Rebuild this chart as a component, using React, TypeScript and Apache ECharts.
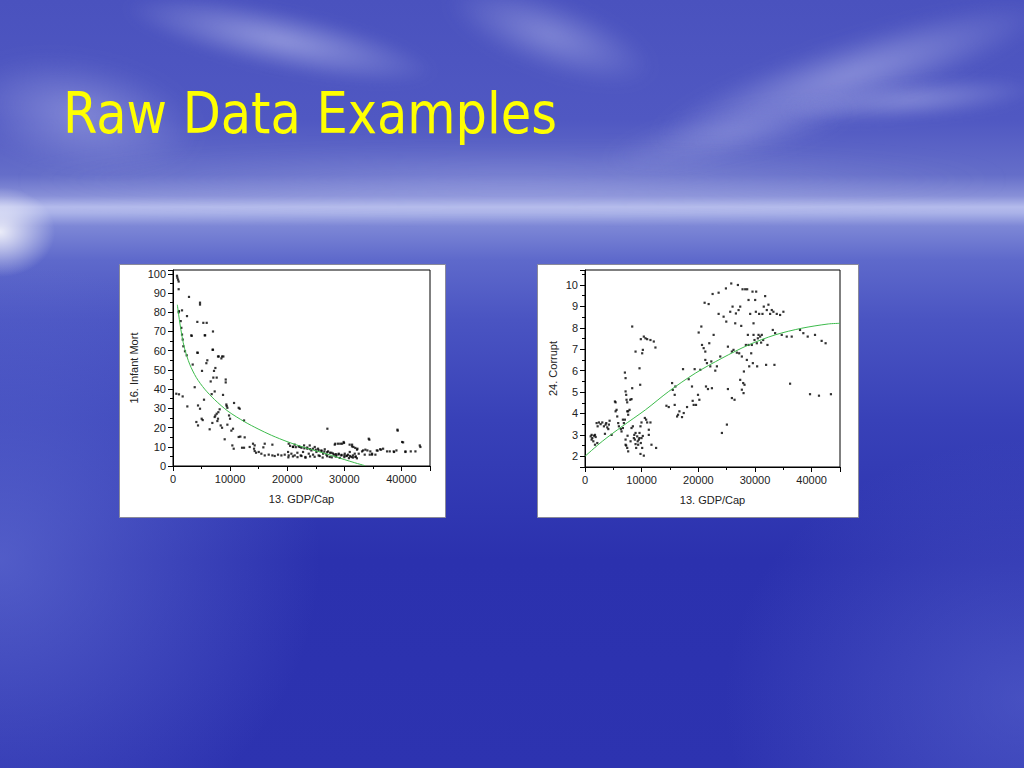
import React, { useEffect, useRef } from "react";
import * as echarts from "echarts";

const slideTitle = "Raw Data Examples";
const gdpAxisName = "13. GDP/Cap";
const mortAxisName = "16. Infant Mort";
const corruptAxisName = "24. Corrupt";

// Infant mortality vs GDP per capita (scatter)
const mortPoints: number[][] = [
  [700, 99], [760, 98], [880, 97], [990, 96], [990, 92], [1580, 81], [990, 80], [2800, 88], [4730, 85], [4730, 84],
  [2450, 78], [3210, 68], [4260, 75], [5310, 74.5], [5900, 74.5], [5550, 68], [7000, 70], [7000, 60.5], [4260, 59],
  [6010, 55], [5840, 53.5], [7880, 57], [8470, 56], [8820, 57], [7420, 51], [7180, 49.5], [5080, 49.5], [7060, 46],
  [7650, 46], [9230, 45], [9230, 43.5], [3800, 41], [6600, 44], [5430, 34.5], [7300, 38.8], [8760, 37], [6770, 37.4],
  [580, 37.6], [1050, 37.3], [1690, 36.2], [2510, 31], [4380, 31.5], [4730, 29.8], [9340, 32], [9400, 31.2],
  [9520, 30.3], [10690, 32.8], [11500, 30.3], [11680, 29.8], [8170, 29.5], [7940, 28], [7650, 27.2], [7420, 26.3],
  [7300, 25.5], [7880, 24.6], [9810, 26.3], [9990, 24.6], [5020, 24.6], [4090, 22.9], [4380, 21.1], [5200, 23.9],
  [6890, 22.4], [7770, 23.4], [8350, 21.1], [6420, 19.1], [8590, 19.9], [9520, 21.5], [10510, 19.4], [10220, 18.4],
  [12440, 23.7], [9050, 13.9], [10390, 10.7], [10630, 9], [11500, 15.1], [11790, 15.3], [12550, 14.9], [12090, 9.5],
  [12440, 9.5], [13430, 9.9], [14010, 11.6], [14300, 10.7], [14190, 9], [14300, 7.8], [14540, 6.9], [15010, 7.3],
  [15470, 6.4], [15820, 9.7], [16060, 11.6], [16060, 5.5], [16760, 5.9], [17400, 11.1], [17400, 5.5], [17810, 5.2],
  [18390, 5.9], [18980, 5.5], [19560, 5.9], [20260, 11.6], [20150, 7.3], [20260, 5.5], [20730, 6.4], [21020, 9.9],
  [21310, 11.1], [21310, 5.5], [21780, 6.9], [22190, 9.9], [22360, 5.5], [22770, 7.3], [22950, 10.7], [23180, 4.7],
  [23530, 9], [23770, 6.4], [23940, 10.7], [24230, 8.1], [24520, 5.9], [24820, 9.9], [25110, 7.3], [25400, 9],
  [25690, 5.2], [25980, 8.1], [26280, 6.4], [26570, 8.7], [26860, 5.9], [27030, 19.4], [27150, 7.6], [27440, 4.7],
  [27740, 6.9], [28200, 5.9], [28320, 11.1], [28610, 5.5], [28900, 11.6], [29020, 6.4], [29490, 5.5], [29610, 11.6],
  [29950, 12], [30070, 6.4], [30360, 5.2], [30650, 5.9], [30950, 7.3], [31240, 4.7], [31360, 11.1], [31590, 9.9],
  [31820, 6.4], [31940, 4.7], [32290, 9], [32520, 6.4], [33280, 8.1], [33570, 5.9], [34270, 14.2], [34040, 8.1],
  [34450, 5.9], [34860, 6.4], [35440, 5.9], [35680, 8.1], [36260, 8.7], [36790, 9], [37950, 7.6], [38710, 7.3],
  [39300, 18.9], [39120, 8.1], [40110, 12.5], [40700, 7.6], [41630, 7.6], [42450, 7.6], [43210, 10.7],
  [1050, 80.6], [1350, 75.4], [1460, 71.9], [1580, 68.4], [1700, 65.8], [1810, 62.3], [2100, 59.7], [2400, 57.6],
  [3450, 52.8], [3270, 67.7], [5630, 68], [6930, 60.5], [4330, 58.9], [8010, 57], [8600, 57],
  [20500, 10.5], [21000, 10], [21500, 9.8], [22000, 10.2], [22500, 9.5], [23000, 9.2], [23500, 9.6], [24000, 8.8],
  [24500, 9], [25000, 8.5], [25500, 8.2], [26000, 7.8], [26500, 7.5], [27000, 7.2], [27500, 6.9], [28000, 6.5],
  [28500, 6.2], [29000, 6], [29500, 5.8], [30000, 5.5], [30500, 5.4], [31000, 5.2], [31500, 5.5], [32000, 5],
  [20200, 4.5], [21000, 5], [21800, 4.6], [22500, 5.2], [23200, 4.3], [24000, 5], [24800, 4.8], [25500, 5.5],
  [26200, 4.4], [27000, 5.1], [27800, 4.5], [28500, 4.9], [29200, 4.2], [30000, 4.6], [30800, 4.1], [31500, 4.4],
  [32200, 4], [28420, 11.6], [29290, 11.6], [29880, 12.5], [30930, 11.1], [31340, 10.2], [31920, 9.4], [32220, 8.5],
  [33100, 7.6], [33680, 8.5], [34380, 13.7], [34550, 7.6], [34850, 5.9], [35830, 8], [36430, 8.5], [37480, 7.6],
  [38640, 7.6], [39340, 18.4], [40290, 12.3], [40700, 7.3], [43320, 9.9],
];

// Fitted curve, infant mortality
const mortFit: number[][] = [
  [760, 83.9], [1170, 75], [1580, 67.5], [2040, 61], [2920, 53], [4090, 46], [5550, 40], [7300, 34.5],
  [9630, 28.5], [12550, 23], [14890, 19.3], [17220, 16], [20150, 12.5], [23060, 9.6], [25400, 7.6],
  [27740, 5.5], [30070, 3.3], [31820, 1.7], [33570, 0.2],
];

// Corruption index vs GDP per capita (scatter)
const corruptPoints: number[][] = [
  [1000, 2.93], [1170, 2.78], [1290, 2.85], [1470, 2.7], [1580, 2.96], [1760, 2.54], [1880, 2.9], [2170, 2.62],
  [1170, 3.0], [1760, 3.0], [2050, 3.55], [2230, 3.4], [2460, 3.58], [2760, 3.5], [3050, 3.58], [3340, 3.4],
  [3640, 3.48], [3750, 3.55], [3930, 3.35], [4110, 3.27], [4220, 3.48], [4340, 3.66], [3520, 3.05], [4690, 3.0],
  [5400, 4.1], [5280, 4.56], [5400, 4.52], [5570, 4.17], [5690, 3.86], [5860, 3.55], [5980, 3.4], [6330, 3.27],
  [6450, 3.16], [6690, 3.32], [6860, 3.55], [7040, 3.71], [6690, 3.71], [7040, 5.91], [7160, 5.65], [7160, 5.03],
  [7270, 4.87], [7330, 4.64], [7450, 4.52], [7450, 4.1], [7620, 3.94], [7620, 4.1], [7860, 4.17], [7980, 4.64],
  [8210, 4.67], [8330, 5.18], [8330, 8.06], [7160, 2.78], [7270, 2.5], [7450, 2.39], [7620, 2.23], [7160, 2.54],
  [7510, 2.96], [8040, 2.7], [8210, 3.32], [8450, 3.4], [8620, 2.85], [8800, 2.78], [8920, 2.57], [8920, 3.09],
  [9030, 2.39], [9210, 2.93], [9380, 2.54], [9500, 2.78], [9620, 3.09], [9620, 6.11], [9740, 5.34], [9790, 3.4],
  [9850, 2.62], [9970, 2.85], [9970, 3.58], [10090, 2.39], [10090, 6.81], [10210, 6.97], [9850, 7.47],
  [10380, 7.59], [10670, 7.51], [10970, 7.47], [11550, 7.43], [12140, 7.36], [12430, 7.08], [8920, 6.89],
  [10380, 2.03], [9790, 2.11], [10560, 3.79], [10790, 3.71], [10970, 3.58], [11260, 3.24], [11550, 3.58],
  [11730, 2.54], [11260, 3.0], [12550, 2.39], [9300, 2.7], [9600, 2.85], [10200, 2.95], [8700, 3.0],
  [14370, 4.36], [14780, 4.3], [15370, 5.42], [15490, 5.1], [15830, 4.87], [15950, 5.26], [15830, 4.4],
  [16250, 3.86], [16420, 3.94], [16660, 4.1], [17120, 3.83], [17420, 4.02], [17300, 6.07], [18010, 4.3],
  [18300, 5.6], [18880, 5.26], [19000, 4.59], [19350, 6.07], [19180, 4.4], [19590, 4.4], [19940, 4.87],
  [20060, 7.78], [20180, 4.64], [20350, 6.04], [20530, 8.06], [20650, 7.2], [20940, 7.05], [21110, 9.17],
  [21230, 6.89], [21230, 6.5], [21350, 5.26], [21520, 6.35], [21700, 5.14], [21820, 9.11], [21930, 7.28],
  [22110, 6.2], [22290, 6.43], [22400, 5.18], [22520, 9.58], [22700, 7.67], [22990, 6.0], [23280, 6.2],
  [23580, 9.64], [23580, 8.65], [23870, 6.66], [24160, 3.09], [24460, 8.52], [24870, 9.84], [24930, 8.29],
  [25040, 3.48], [25220, 7.12], [25220, 5.14], [25630, 8.75], [25810, 10.07], [25920, 6.89], [25920, 4.72],
  [26040, 8.99], [26210, 6.97], [26390, 4.64], [26510, 8.21], [26630, 8.67], [26800, 6.84], [26980, 10.0],
  [27100, 8.83], [27210, 6.81], [27390, 5.57], [27390, 8.99], [27570, 8.09], [27680, 6.66], [27680, 5.11],
  [27800, 9.8], [27920, 5.42], [27980, 4.95], [28040, 5.96], [28150, 5.34], [28270, 9.8], [28390, 7.2],
  [28560, 6.5], [28620, 9.8], [28740, 7.67], [28860, 7.2], [28860, 9.3], [28980, 6.2], [29150, 8.65],
  [29330, 6.81], [29440, 7.2], [29560, 9.69], [29620, 6.35], [29740, 8.21], [29740, 7.67], [29910, 7.43],
  [30030, 9.3], [30150, 8.75], [30210, 9.69], [30320, 7.28], [30380, 6.2], [30500, 7.51], [30620, 7.67],
  [30730, 8.65], [30910, 7.59], [31080, 7.31], [31200, 7.67], [31320, 8.65], [31440, 7.43], [31550, 8.99],
  [31790, 9.48], [31960, 6.27], [32080, 8.83], [32200, 7.2], [32370, 9.08], [32670, 8.65], [32960, 8.83],
  [33140, 7.9], [33250, 8.75], [33430, 6.27], [33550, 7.75], [33840, 8.65], [34430, 8.6], [34720, 7.67],
  [35010, 8.75], [35600, 7.59], [36190, 5.39], [36480, 7.59], [37950, 7.9], [38530, 7.75], [39300, 7.59],
  [39710, 4.9], [40590, 7.67], [41290, 4.83], [41760, 7.39], [42460, 7.28], [43400, 4.9],
];

// Fitted curve, corruption
const corruptFit: number[][] = [
  [0, 2.0], [3050, 2.7], [6570, 3.4], [10670, 4.17], [14780, 5.03], [19470, 5.88], [24160, 6.58],
  [28860, 7.2], [33550, 7.67], [38240, 7.98], [42930, 8.18], [45000, 8.21],
];

const AXIS_FONT = "Liberation Sans";
const plainNumber = (v: number) => String(v);

function xAxisFor(gridIndex: number) {
  return {
    gridIndex,
    type: "value",
    min: 0,
    max: 45000,
    interval: 10000,
    name: gdpAxisName,
    nameLocation: "middle",
    nameGap: 27,
    nameTextStyle: { color: "#222", fontSize: 11, fontFamily: AXIS_FONT },
    axisLine: { show: true, onZero: false, lineStyle: { color: "#000", width: 1 } },
    axisTick: { show: true, inside: false, length: 5, lineStyle: { color: "#000", width: 1 } },
    minorTick: { show: true, splitNumber: 2, length: 3, lineStyle: { color: "#000", width: 1 } },
    axisLabel: { showMaxLabel: false, formatter: plainNumber, color: "#222", fontSize: 11, fontFamily: AXIS_FONT, margin: 7 },
    splitLine: { show: false },
  };
}

export default function App() {
  const ref = useRef<HTMLDivElement>(null);
  useEffect(() => {
    if (!ref.current) return;
    const chart = echarts.init(ref.current, null, { renderer: "svg" });
    const yCommon = {
      type: "value",
      nameLocation: "middle",
      nameTextStyle: { color: "#222", fontSize: 11, fontFamily: AXIS_FONT },
      axisLine: { show: true, onZero: false, lineStyle: { color: "#000", width: 1 } },
      axisTick: { show: true, inside: false, length: 5, lineStyle: { color: "#000", width: 1 } },
      minorTick: { show: true, splitNumber: 2, length: 3, lineStyle: { color: "#000", width: 1 } },
      splitLine: { show: false },
    };
    chart.setOption({
      animation: false,
      backgroundColor: "transparent",
      graphic: [
        { type: "rect", z: -1, shape: { x: 119.5, y: 264.5, width: 326, height: 253 }, style: { fill: "#fff", stroke: "#8a8a9a", lineWidth: 1 } },
        { type: "rect", z: -1, shape: { x: 537.5, y: 264.5, width: 321, height: 253 }, style: { fill: "#fff", stroke: "#8a8a9a", lineWidth: 1 } },
        {
          type: "text",
          x: 63,
          y: 113,
          scaleX: 0.965,
          style: {
            text: slideTitle,
            fill: "#ffff00",
            fontSize: 57,
            fontFamily: "DejaVu Sans Condensed",
            verticalAlign: "middle",
          },
        },
      ],
      grid: [
        { left: 173, top: 270, width: 257, height: 196, show: true, backgroundColor: "#fff", borderColor: "#000", borderWidth: 1 },
        { left: 585, top: 270, width: 255, height: 197, show: true, backgroundColor: "#fff", borderColor: "#000", borderWidth: 1 },
      ],
      xAxis: [xAxisFor(0), xAxisFor(1)],
      yAxis: [
        {
          ...yCommon,
          gridIndex: 0,
          min: 0,
          max: 102,
          interval: 10,
          name: mortAxisName,
          nameGap: 34,
          axisLabel: { showMaxLabel: false, color: "#222", fontSize: 11, fontFamily: AXIS_FONT, margin: 7 },
        },
        {
          ...yCommon,
          gridIndex: 1,
          min: 1.5,
          max: 10.7,
          splitNumber: 9,
          name: corruptAxisName,
          nameGap: 27,
          axisLabel: { showMinLabel: false, showMaxLabel: false, color: "#222", fontSize: 11, fontFamily: AXIS_FONT, margin: 7 },
        },
      ],
      series: [
        {
          type: "scatter",
          xAxisIndex: 0,
          yAxisIndex: 0,
          data: mortPoints,
          symbol: "rect",
          symbolSize: 2.2,
          itemStyle: { color: "#000" },
          z: 3,
        },
        {
          type: "line",
          xAxisIndex: 0,
          yAxisIndex: 0,
          data: mortFit,
          smooth: 0.3,
          showSymbol: false,
          symbol: "none",
          lineStyle: { color: "#3dbb4c", width: 1 },
          z: 4,
        },
        {
          type: "scatter",
          xAxisIndex: 1,
          yAxisIndex: 1,
          data: corruptPoints,
          symbol: "rect",
          symbolSize: 2.2,
          itemStyle: { color: "#000" },
          z: 3,
        },
        {
          type: "line",
          xAxisIndex: 1,
          yAxisIndex: 1,
          data: corruptFit,
          smooth: 0.3,
          showSymbol: false,
          symbol: "none",
          lineStyle: { color: "#3dbb4c", width: 1 },
          z: 4,
        },
      ],
    });
    return () => chart.dispose();
  }, []);

  const cloud = (left: number, top: number, w: number, h: number, rot: number, op: number, blur: number) => (
    <div
      style={{
        position: "absolute",
        left,
        top,
        width: w,
        height: h,
        borderRadius: "50%",
        background: `radial-gradient(ellipse at center, rgba(230,232,255,${op}) 0%, rgba(230,232,255,0) 70%)`,
        transform: `rotate(${rot}deg)`,
        filter: `blur(${blur}px)`,
      }}
    />
  );

  return (
    <div
      style={{
        position: "fixed",
        left: 0,
        top: 0,
        width: 1024,
        height: 768,
        overflow: "hidden",
        background: [
          "radial-gradient(ellipse 55px 45px at 0px 232px, rgba(255,255,255,0.85), rgba(255,255,255,0))",
          "radial-gradient(ellipse 320px 300px at 0px 560px, rgba(120,135,225,0.5), rgba(120,135,225,0))",
          "radial-gradient(ellipse 300px 260px at 1024px 700px, rgba(110,125,220,0.4), rgba(110,125,220,0))",
          "linear-gradient(to bottom, #4a52be 0px, #5058c2 120px, #656ec9 175px, #8890d8 196px, #b4bbec 207px, #aab2e8 213px, #7d87d6 226px, #5e69cb 260px, #4a54c2 320px, #3841b8 420px, #2b31ae 560px, #2d33b0 768px)",
        ].join(","),
      }}
    >
      {cloud(120, 10, 320, 60, 12, 0.45, 6)}
      {cloud(-40, 60, 240, 110, 10, 0.35, 10)}
      {cloud(440, 0, 220, 70, 20, 0.35, 8)}
      {cloud(640, 40, 420, 70, -18, 0.4, 8)}
      {cloud(780, 80, 260, 40, -5, 0.35, 6)}
      {cloud(600, 110, 260, 50, -12, 0.25, 8)}
      {cloud(0, 150, 1024, 60, 0, 0.22, 12)}
      <div ref={ref} style={{ position: "absolute", left: 0, top: 0, width: 1024, height: 768 }} />
    </div>
  );
}
